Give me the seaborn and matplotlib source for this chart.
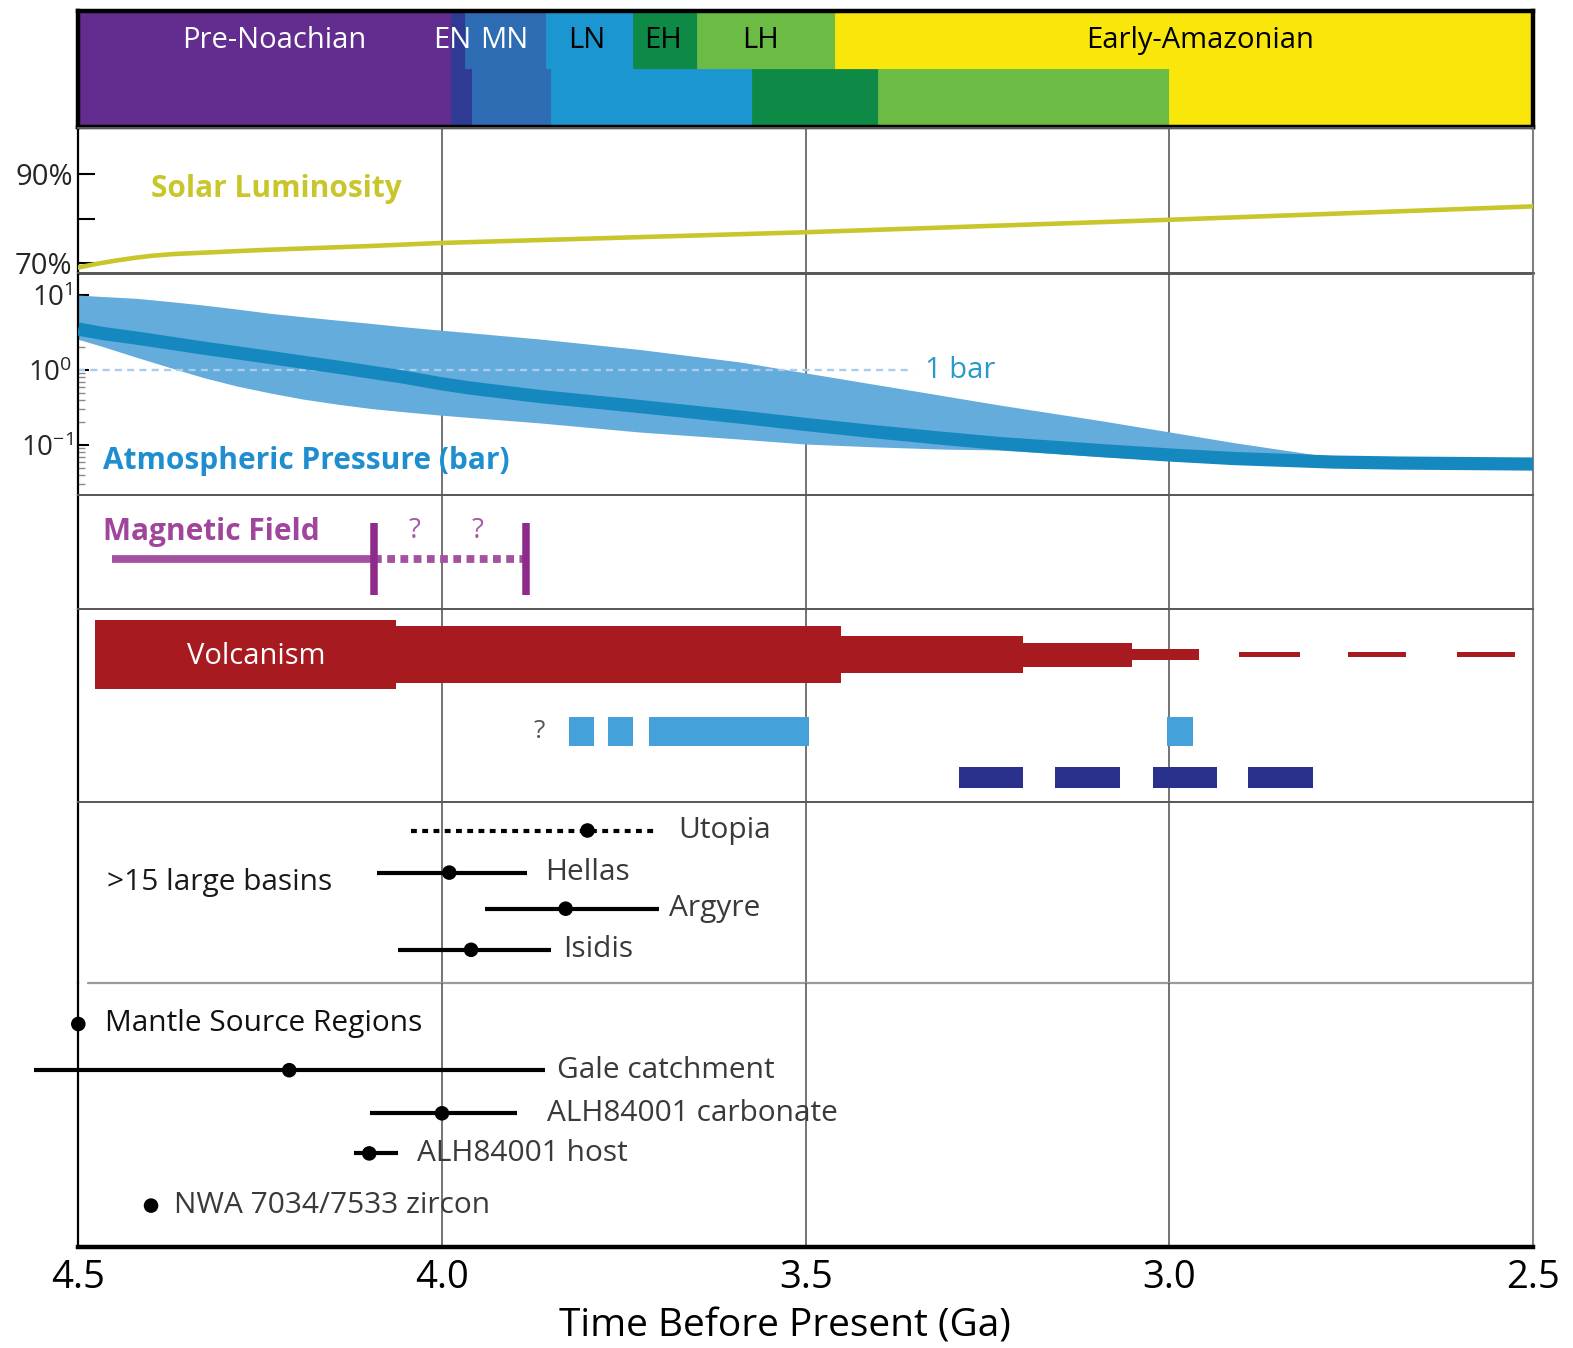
import numpy as np
import pandas as pd
import matplotlib
matplotlib.use("Agg")
import matplotlib.pyplot as plt
import seaborn as sns
from matplotlib.ticker import FixedLocator, LogLocator, NullFormatter, FixedFormatter

# ---------------------------------------------------------------- data
# Martian periods, two boundary models (Ga)
period_names = ["Pre-Noachian", "EN", "MN", "LN", "EH", "LH", "Early-Amazonian"]
period_colors = ["#622d8e", "#2f3a94", "#2e6cb3", "#1b96d1", "#0f8a46", "#6bbb45", "#f9e60b"]
period_text_colors = ["white", "white", "white", "black", "black", "black", "black"]
period_bounds_a = [4.5, 3.988, 3.968, 3.857, 3.737, 3.649, 3.46, 2.5]
period_bounds_b = [4.5, 3.988, 3.959, 3.850, 3.574, 3.40, 3.0, 2.5]
period_label_age = [4.231, 3.986, 3.915, 3.801, 3.696, 3.562, 2.958]

# Faint young Sun: luminosity relative to today (%)
lum_age = [4.5, 4.475, 4.45, 4.425, 4.4, 4.37, 4.33, 4.25, 4.1, 4.0, 3.75, 3.5, 3.25, 3.0, 2.75, 2.5]
lum_pct = [69.1, 69.9, 70.6, 71.2, 71.7, 72.1, 72.4, 73.0, 73.9, 74.6, 75.8, 77.0, 78.4, 79.8, 81.3, 82.8]

# Atmospheric pressure (bar): envelope and preferred track
pres_age = [4.5, 4.466, 4.42, 4.374, 4.328, 4.282, 4.236, 4.191, 4.145, 4.099, 4.053, 4.003,
            3.961, 3.865, 3.728, 3.59, 3.499, 3.408, 3.316, 3.233, 3.095, 2.999, 2.912, 2.775,
            2.683, 2.5]
pres_high = [10.0, 9.55, 9.04, 8.19, 7.36, 6.51, 5.70, 5.14, 4.64, 4.20, 3.78, 3.41,
             3.14, 2.59, 1.88, 1.28, 0.912, 0.651, 0.464, 0.341, 0.212, 0.149, 0.108, 0.0685,
             0.0575, 0.0558]
pres_mid = [3.52, 3.07, 2.67, 2.29, 1.96, 1.70, 1.47, 1.27, 1.10, 0.940, 0.807, 0.661,
            0.575, 0.443, 0.326, 0.236, 0.1876, 0.1514, 0.1240, 0.1047, 0.0845, 0.0736, 0.0661,
            0.0593, 0.0575, 0.0558]
pres_low = [2.57, 2.05, 1.48, 1.08, 0.794, 0.612, 0.494, 0.410, 0.352, 0.308, 0.278, 0.251,
            0.233, 0.197, 0.149, 0.120, 0.103, 0.0948, 0.0885, 0.0858, 0.0703, 0.0621, 0.0567,
            0.0509, 0.0575, 0.0558]

# Magnetic dynamo: active interval, uncertain shutdown interval
mag_active = (4.453, 4.093)
mag_shutdown = (4.093, 3.885)

# Volcanism intensity through time (start, end, relative flux)
volc_start = [4.477, 4.063, 3.452, 3.201, 3.052, 2.904, 2.754, 2.605]
volc_end = [4.063, 3.452, 3.201, 3.052, 2.959, 2.821, 2.674, 2.525]
volc_flux = [69, 57, 37, 24, 11, 5, 5, 5]

# Dated volcanic episodes (two groups)
episode_a_start = [3.826, 3.772, 3.715, 3.003]
episode_a_end = [3.791, 3.737, 3.496, 2.968]
episode_b_start = [3.289, 3.157, 3.023, 2.892]
episode_b_end = [3.201, 3.068, 2.934, 2.803]

# Large impact basins (Ga)
basin_names = ["Utopia", "Hellas", "Argyre", "Isidis"]
basin_age = [3.80, 3.99, 3.83, 3.96]
basin_old = [4.042, 4.090, 3.941, 4.060]
basin_young = [3.707, 3.883, 3.701, 3.850]

# Crust and meteorite ages (Ga)
sample_names = ["Mantle Source Regions", "Gale catchment", "ALH84001 carbonate",
                "ALH84001 host", "NWA 7034/7533 zircon"]
sample_age = [4.50, 4.21, 4.00, 4.10, 4.40]
sample_old = [np.nan, 4.561, 4.099, 4.121, np.nan]
sample_young = [np.nan, 3.858, 3.897, 4.060, np.nan]

# ---------------------------------------------------------------- style
sns.set_theme(style="white")
plt.rcParams['font.family'] = ['Open Sans', 'DejaVu Sans']
plt.rcParams['mathtext.fontset'] = 'custom'
plt.rcParams['mathtext.rm'] = 'Open Sans'
plt.rcParams['mathtext.it'] = 'Open Sans'
plt.rcParams['mathtext.bf'] = 'Open Sans:bold'

W, H = 1573, 1348
fig = plt.figure(figsize=(W / 100, H / 100), dpi=100)
fig.patch.set_facecolor("white")
X0, X1 = 78.3, 1533.0
GRID = "#4d4d4d"
SEP = "#5a5a5a"
TXT = "#3a3a3a"
LABEL = 21.5


def panel(top, bottom):
    ax = fig.add_axes([X0 / W, 1 - bottom / H, (X1 - X0) / W, (bottom - top) / H])
    ax.set_xlim(4.5, 2.5)
    ax.set_ylim(bottom - top, 0)
    ax.set_facecolor("none")
    ax.set_xticks([])
    ax.set_yticks([])
    ax.spines["left"].set_color("black")
    ax.spines["left"].set_linewidth(1.6)
    ax.spines["right"].set_color("#808080")
    ax.spines["right"].set_linewidth(1.5)
    for s in ("top", "bottom"):
        ax.spines[s].set_color(SEP)
        ax.spines[s].set_linewidth(1.4)
    return ax


def vgrid(ax):
    for g in (4.0, 3.5, 3.0):
        ax.axvline(g, color=GRID, lw=1.1, zorder=0.5)


# ---------------------------------------------------------------- periods bar
ax_era = panel(11.0, 127.4)
ax_era.set_ylim(0, 2)
for row, bounds in ((1, period_bounds_a), (0, period_bounds_b)):
    ax_era.barh(y=[row + 0.5] * len(period_colors), width=np.diff(bounds), left=bounds[:-1],
                height=1.0, color=period_colors, edgecolor=period_colors, linewidth=0.6, zorder=1)
for name, xa, tc in zip(period_names, period_label_age, period_text_colors):
    ax_era.text(xa, 1.50, name, ha="center", va="center", fontsize=21, color=tc, zorder=3)
for s in ax_era.spines.values():
    s.set_color("black")
    s.set_linewidth(3.2)
    s.set_zorder(4)

# ---------------------------------------------------------------- luminosity
ax_lum = panel(128.4, 272.8)
ax_lum.set_ylim(67.9, 100.3)
vgrid(ax_lum)
sns.lineplot(x=lum_age, y=lum_pct, ax=ax_lum, color="#c9c62c", lw=3.3, zorder=3)
ax_lum.yaxis.set_major_locator(FixedLocator([70, 80, 90]))
ax_lum.yaxis.set_major_formatter(FixedFormatter(["70%", "", "90%"]))
ax_lum.tick_params(axis="y", direction="in", length=12, width=1.5, color="black",
                   labelsize=21, pad=4, left=True)
ax_lum.text(0.0497, 0.583, "Solar Luminosity", transform=ax_lum.transAxes, fontsize=LABEL,
            fontweight="bold", color="#c9c62c", va="center", ha="left")
ax_lum.spines["bottom"].set_color("#2a2a2a")
ax_lum.spines["bottom"].set_linewidth(1.8)

# ---------------------------------------------------------------- pressure
ax_p = panel(272.8, 494.5)
ax_p.set_yscale("log")
ax_p.set_ylim(0.0219, 19.8)
vgrid(ax_p)
ax_p.fill_between(pres_age, pres_low, pres_high, color="#63acdb", lw=0, zorder=1)
ax_p.plot([4.5, 3.352], [1, 1], ls=(0, (3, 2.2)), color="#a9cdec", lw=1.7, zorder=2)
pres_df = pd.DataFrame({"age": pres_age, "bar": pres_mid})
sns.lineplot(data=pres_df, x="age", y="bar", ax=ax_p, color="#1589bf", lw=9.5,
             solid_capstyle="butt", zorder=3)
ax_p.set_xlim(4.5, 2.5)
ax_p.yaxis.set_major_locator(FixedLocator([0.1, 1, 10]))
ax_p.yaxis.set_major_formatter(FixedFormatter([r"$\mathregular{10^{-1}}$",
                                               r"$\mathregular{10^{0}}$",
                                               r"$\mathregular{10^{1}}$"]))
ax_p.yaxis.set_minor_locator(LogLocator(base=10, subs=np.arange(2, 10)))
ax_p.yaxis.set_minor_formatter(NullFormatter())
ax_p.tick_params(axis="y", which="major", direction="in", length=8, width=1.5,
                 color="black", labelsize=20, pad=4, left=True)
ax_p.tick_params(axis="y", which="minor", direction="in", length=5, width=1.0,
                 color="#8a8a8a", left=True)
ax_p.set_xlabel("")
ax_p.set_ylabel("")
ax_p.text(3.336, 1.0, "1 bar", fontsize=21, color="#2a9ac8", va="center", ha="left")
ax_p.text(0.017, 0.149, "Atmospheric Pressure (bar)", transform=ax_p.transAxes, fontsize=LABEL,
          fontweight="bold", color="#1f8ed0", va="center", ha="left")

# ---------------------------------------------------------------- magnetic field
ax_m = panel(494.5, 608.8)
vgrid(ax_m)
MAG_Y = 64.2
ax_m.plot(mag_active, [MAG_Y, MAG_Y], color="#a352a0", lw=5.6, solid_capstyle="butt", zorder=2)
ax_m.plot(mag_shutdown, [MAG_Y, MAG_Y], color="#a352a0", lw=5.6, ls=(0, (1.0, 0.7)),
          dash_capstyle="butt", zorder=2)
for xe in (mag_active[1], mag_shutdown[1]):
    ax_m.plot([xe, xe], [MAG_Y - 35.5, MAG_Y + 36.5], color="#8d2a8b", lw=5.4,
              solid_capstyle="butt", zorder=3)
for xq in (4.038, 3.951):
    ax_m.text(xq, 37, "?", fontsize=20, color="#a55aa5", ha="center", va="center")
ax_m.text(0.017, 0.675, "Magnetic Field", transform=ax_m.transAxes, fontsize=LABEL,
          fontweight="bold", color="#a0449c", va="center", ha="left")

# ---------------------------------------------------------------- volcanism
ax_v = panel(608.8, 802.4)
vgrid(ax_v)
ax_v.barh(y=[45.7] * len(volc_flux), width=np.subtract(volc_end, volc_start), left=volc_start,
          height=volc_flux, color="#a71a20", edgecolor="none", zorder=2)
ax_v.text(4.256, 47.5, "Volcanism", fontsize=21, color="white", ha="center", va="center", zorder=3)
ax_v.barh(y=[122.4] * 4, width=np.subtract(episode_a_end, episode_a_start), left=episode_a_start,
          height=29, color="#45a1da", edgecolor="none", zorder=2)
ax_v.barh(y=[168.5] * 4, width=np.subtract(episode_b_end, episode_b_start), left=episode_b_start,
          height=21, color="#2a318c", edgecolor="none", zorder=2)
ax_v.text(3.866, 122.4, "?", fontsize=19, color="#555555", ha="center", va="center")

# ---------------------------------------------------------------- impact basins
ax_b = panel(802.4, 983.0)
vgrid(ax_b)
ax_b.spines["bottom"].set_visible(False)
ax_b.axhline(180.6, xmin=10 / 1455, xmax=1, color="#9a9a9a", lw=1.6, clip_on=False)
basin_rows = [28.1, 70.2, 106.3, 147.4]
basin_label_dx = [23, 18, 10, 12]
for i, (nm, a, o, y_, r, dx) in enumerate(zip(basin_names, basin_age, basin_old, basin_young,
                                               basin_rows, basin_label_dx)):
    if i == 0:
        ax_b.plot([o, y_], [r, r], color="black", lw=3.0, ls=(0, (1.4, 1.3)),
                  dash_capstyle="butt", zorder=2)
    else:
        ax_b.plot([o, y_], [r, r], color="black", lw=3.0, solid_capstyle="butt", zorder=2)
    ax_b.annotate(nm, xy=(y_, r), xytext=(dx * 0.72, 0), textcoords="offset points",
                  fontsize=LABEL, color=TXT, ha="left", va="center")
sns.scatterplot(x=basin_age, y=basin_rows, ax=ax_b, s=110, color="black", edgecolor="none",
                zorder=4, legend=False)
ax_b.set_xlim(4.5, 2.5)
ax_b.set_ylim(180.6, 0)
ax_b.set_xlabel("")
ax_b.set_ylabel("")
ax_b.text(0.02, (180.6 - 80.5) / 180.6, ">15 large basins", transform=ax_b.transAxes,
          fontsize=LABEL, color="#1a1a1a", ha="left", va="center")

# ---------------------------------------------------------------- crust and meteorites
ax_s = panel(983.0, 1246.7)
vgrid(ax_s)
ax_s.spines["top"].set_visible(False)
ax_s.spines["bottom"].set_color("black")
ax_s.spines["bottom"].set_linewidth(3.2)
sample_rows = [41.0, 87.2, 130.3, 170.4, 222.6]
sample_label_dx = [27, 12, 30, 19, 23]
sample_colors = ["#111111", TXT, TXT, TXT, TXT]
for nm, a, o, y_, r, dx, c in zip(sample_names, sample_age, sample_old, sample_young,
                                  sample_rows, sample_label_dx, sample_colors):
    if not np.isnan(o):
        ax_s.plot([o, y_], [r, r], color="black", lw=3.0, solid_capstyle="butt",
                  zorder=2, clip_on=False)
        end = y_
    else:
        end = a
    ax_s.annotate(nm, xy=(end, r), xytext=(dx * 0.72, 0), textcoords="offset points",
                  fontsize=LABEL, color=c, ha="left", va="center")
sns.scatterplot(x=sample_age, y=sample_rows, ax=ax_s, s=110, color="black", edgecolor="none",
                zorder=4, legend=False, clip_on=False)
ax_s.set_xlim(4.5, 2.5)
ax_s.set_ylim(263.7, 0)
ax_s.set_xlabel("")
ax_s.set_ylabel("")
ax_s.set_xticks([4.5, 4.0, 3.5, 3.0, 2.5])
ax_s.set_xticklabels(["4.5", "4.0", "3.5", "3.0", "2.5"])
ax_s.tick_params(axis="x", length=0, pad=9, labelsize=27.5, colors="black")

fig.text(784.5 / W, 1 - 1327 / H, "Time Before Present (Ga)", fontsize=28, color="black",
         ha="center", va="center")

fig.savefig("out.png", dpi=100, facecolor="white")
